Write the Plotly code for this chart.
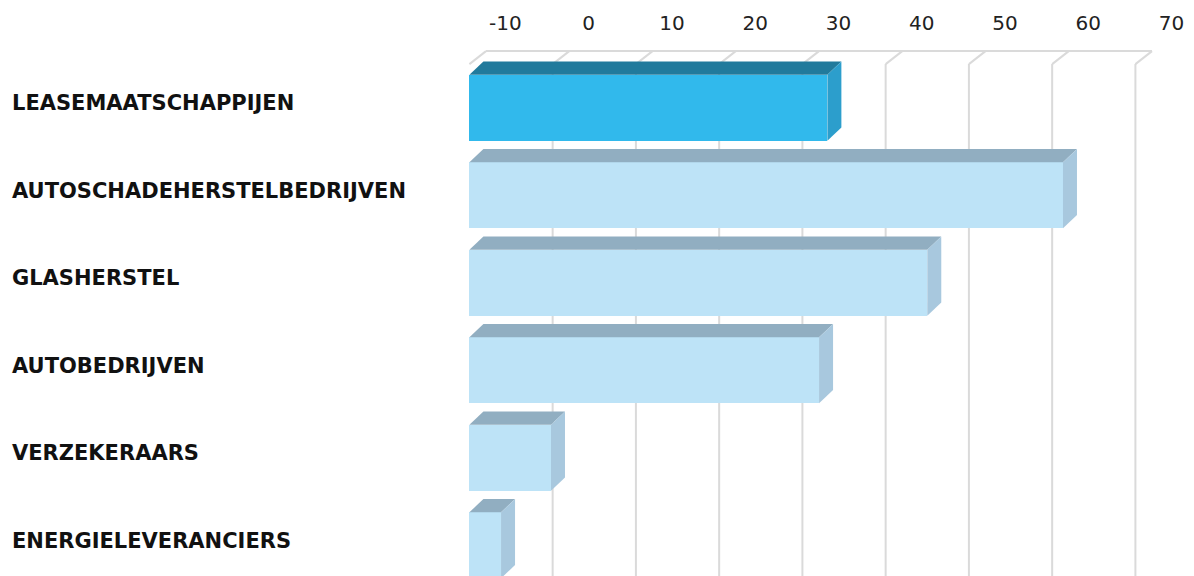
import plotly.graph_objects as go

# ---- data ----
categories = ["LEASEMAATSCHAPPIJEN", "AUTOSCHADEHERSTELBEDRIJVEN", "GLASHERSTEL",
              "AUTOBEDRIJVEN", "VERZEKERAARS", "ENERGIELEVERANCIERS"]
values = [33.0, 61.3, 45.0, 32.0, -0.2, -6.2]
highlight = [True, False, False, False, False, False]
tick_values = [-10, 0, 10, 20, 30, 40, 50, 60, 70]
tick_labels = ["-10", "0", "10", "20", "30", "40", "50", "60", "70"]

# ---- layout geometry ----
W, H = 1194, 576
T = 44
BASE = -10
PX_PER_UNIT = 8.325          # x pixels per value unit
X_REF_PX, X_REF_V = 802.41, 30
ROW_PX, ROW0_PX = 87.49, 107.85
x_lo = X_REF_V - X_REF_PX / PX_PER_UNIT
x_hi = X_REF_V + (W - X_REF_PX) / PX_PER_UNIT
y_top = (T - ROW0_PX) / ROW_PX
y_bot = (H - ROW0_PX) / ROW_PX
BAR_W = 66 / ROW_PX
DX = 14 / PX_PER_UNIT
DY = 13.4 / ROW_PX
GDX = 16.6 / PX_PER_UNIT
GDY = 13.0 / ROW_PX

FRONT_HI, TOP_HI, SIDE_HI = "#31b9ec", "#217a9c", "#2c9ecc"
FRONT, TOP, SIDE = "#bde3f7", "#91aec1", "#a8c8de"
GRID = "#dadada"

ys = list(range(len(categories)))

fig = go.Figure()
fig.add_trace(go.Bar(
    y=ys, x=[v - BASE for v in values], base=BASE, orientation="h",
    width=BAR_W,
    marker=dict(color=[FRONT_HI if h else FRONT for h in highlight], line=dict(width=0)),
    hovertemplate="%{customdata}<extra></extra>",
    customdata=values,
))

shapes = []
# 3D grid
gy_front = -0.5
gy_back = gy_front - GDY
for v in tick_values:
    if v != BASE:
        shapes.append(dict(type="line", xref="x", yref="y", x0=v, x1=v, y0=gy_front, y1=y_bot + 1,
                           line=dict(color=GRID, width=2), layer="below"))
    shapes.append(dict(type="line", xref="x", yref="y", x0=v, x1=v + GDX, y0=gy_front, y1=gy_back,
                       line=dict(color=GRID, width=2), layer="below"))
shapes.append(dict(type="line", xref="x", yref="y", x0=tick_values[0] + GDX, x1=tick_values[-1] + GDX,
                   y0=gy_back, y1=gy_back, line=dict(color=GRID, width=2), layer="below"))

# 3D bar faces
for i, (v, h) in enumerate(zip(values, highlight)):
    yt = i - BAR_W / 2
    yb = i + BAR_W / 2
    top_path = f"M {BASE},{yt} L {v},{yt} L {v + DX},{yt - DY} L {BASE + DX},{yt - DY} Z"
    side_path = f"M {v},{yt} L {v + DX},{yt - DY} L {v + DX},{yb - DY} L {v},{yb} Z"
    shapes.append(dict(type="path", xref="x", yref="y", path=top_path,
                       fillcolor=TOP_HI if h else TOP, line=dict(width=0), layer="above"))
    shapes.append(dict(type="path", xref="x", yref="y", path=side_path,
                       fillcolor=SIDE_HI if h else SIDE, line=dict(width=0), layer="above"))

annotations = []
for i, c in enumerate(categories):
    annotations.append(dict(xref="paper", yref="y", x=10 / W, y=i, yshift=4.5,
                            text=c, showarrow=False, xanchor="left", yanchor="middle",
                            font=dict(family="DejaVu Sans", size=21, color="#111111", weight="bold")))

fig.update_layout(
    width=W, height=H,
    margin=dict(l=0, r=0, t=T, b=0),
    paper_bgcolor="white", plot_bgcolor="white",
    showlegend=False,
    bargap=0,
    shapes=shapes,
    annotations=annotations,
    xaxis=dict(range=[x_lo, x_hi], side="top", tickvals=tick_values, ticktext=tick_labels,
               showgrid=False, zeroline=False, showline=False, ticks="",
               ticklabelshift=36, ticklabelstandoff=9,
               tickfont=dict(family="DejaVu Sans", size=20, color="#222222")),
    yaxis=dict(range=[y_bot, y_top], showgrid=False, zeroline=False, showline=False,
               showticklabels=False, ticks=""),
)

fig.write_html("out.html", config={"displayModeBar": False})
